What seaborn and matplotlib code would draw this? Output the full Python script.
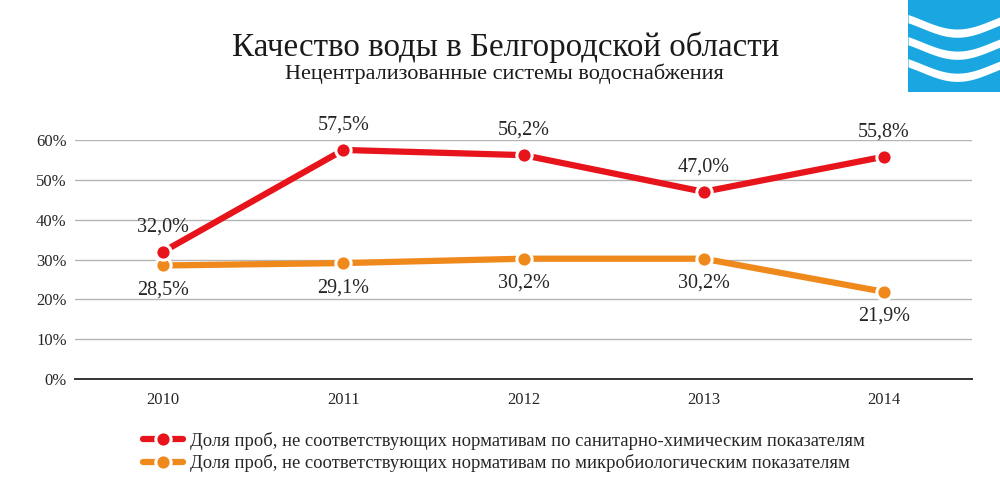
"""
Качество воды в Белгородской области — line chart, two series of sample shares.
"""

import numpy as np
import pandas as pd
import matplotlib
matplotlib.use('Agg')
import matplotlib.pyplot as plt
from matplotlib.lines import Line2D
import seaborn as sns


# ── Data ───────────────────────────────────────────────────────────────────────

years = [2010, 2011, 2012, 2013, 2014]
chem_share = [32.0, 57.5, 56.2, 47.0, 55.8]
micro_share = [28.5, 29.1, 30.2, 30.2, 21.9]
y_ticks = [0, 10, 20, 30, 40, 50, 60]

title = 'Качество воды в Белгородской области'
subtitle = 'Нецентрализованные системы водоснабжения'
chem_label = 'Доля проб, не соответствующих нормативам по санитарно-химическим показателям'
micro_label = 'Доля проб, не соответствующих нормативам по микробиологическим показателям'

RED = '#e8141b'
ORANGE = '#f0891c'
LOGO_BLUE = '#1aa7e1'
TEXT = '#262626'


# ── Plot ───────────────────────────────────────────────────────────────────────

sns.set_style('white')
plt.rcParams['font.family'] = ['Liberation Serif', 'DejaVu Serif']

df = pd.DataFrame({'year': years, 'chem': chem_share, 'micro': micro_share})

fig = plt.figure(figsize=(10, 5), dpi=100)
ax = fig.add_axes([0.075, 0.242, 0.897, 0.478])

line_kw = dict(marker='o', markersize=11, markeredgecolor='white',
               markeredgewidth=2.2, linewidth=4.5)
sns.lineplot(data=df, x='year', y='micro', color=ORANGE, ax=ax, zorder=3, **line_kw)
sns.lineplot(data=df, x='year', y='chem', color=RED, ax=ax, zorder=4, **line_kw)

for yr, v in zip(years, chem_share):
    ax.annotate(f'{v:.1f}%'.replace('.', ','), (yr, v), xytext=(0, 11),
                textcoords='offset points', ha='center', va='bottom',
                fontsize=14.5, color=TEXT, annotation_clip=False)
for yr, v in zip(years, micro_share):
    ax.annotate(f'{v:.1f}%'.replace('.', ','), (yr, v), xytext=(0, -11),
                textcoords='offset points', ha='center', va='top',
                fontsize=14.5, color=TEXT, annotation_clip=False)

ax.set_xlim(2009.51, 2014.49)
ax.set_ylim(0, 60)
ax.set_xticks(years)
ax.set_xticklabels([str(y) for y in years], fontsize=12, color=TEXT)
ax.set_yticks(y_ticks)
ax.set_yticklabels([f'{t}%' for t in y_ticks], fontsize=12, color=TEXT)
ax.set_xticks([2009.51, 2014.49], minor=True)
ax.tick_params(axis='x', which='major', length=0, pad=9)
ax.tick_params(axis='x', which='minor', length=5, width=1.2, color='#333333', direction='out')
ax.tick_params(axis='y', length=0, pad=6)
ax.set_xlabel('')
ax.set_ylabel('')

ax.grid(axis='y', color='#b5b5b5', linewidth=1)
ax.grid(axis='x', visible=False)
for side in ['left', 'right', 'top']:
    ax.spines[side].set_visible(False)
ax.spines['bottom'].set_color('#333333')
ax.spines['bottom'].set_linewidth(1.4)
ax.spines['bottom'].set_zorder(5)

fig.text(0.506, 0.905, title, ha='center', va='center', fontsize=23.8, color='#1a1a1a')
fig.text(0.504, 0.853, subtitle, ha='center', va='center', fontsize=16, color='#1a1a1a')

handles = [
    Line2D([0], [0], color=RED, **line_kw),
    Line2D([0], [0], color=ORANGE, **line_kw),
]
fig.legend(handles, [chem_label, micro_label], loc='center left',
           bbox_to_anchor=(0.126, 0.096), frameon=False, fontsize=13.4,
           handlelength=2.15, handletextpad=0.4, labelspacing=0.22,
           labelcolor=TEXT)

# logo in the top-right corner
logo = fig.add_axes([0.908, 0.816, 0.092, 0.184])
logo.set_xlim(0, 1)
logo.set_ylim(0, 1)
logo.set_facecolor(LOGO_BLUE)
xs = np.linspace(0, 1, 100)
for base, amp in [(0.74, 0.10), (0.50, 0.10), (0.26, 0.10)]:
    mid = base - amp * np.sin(np.pi * (xs - 0.15) * 1.3)
    logo.fill_between(xs, mid - 0.045, mid + 0.045, color='white', linewidth=0)
logo.set_xticks([])
logo.set_yticks([])
for s in logo.spines.values():
    s.set_visible(False)

fig.savefig('out.png', dpi=100, facecolor='white')
